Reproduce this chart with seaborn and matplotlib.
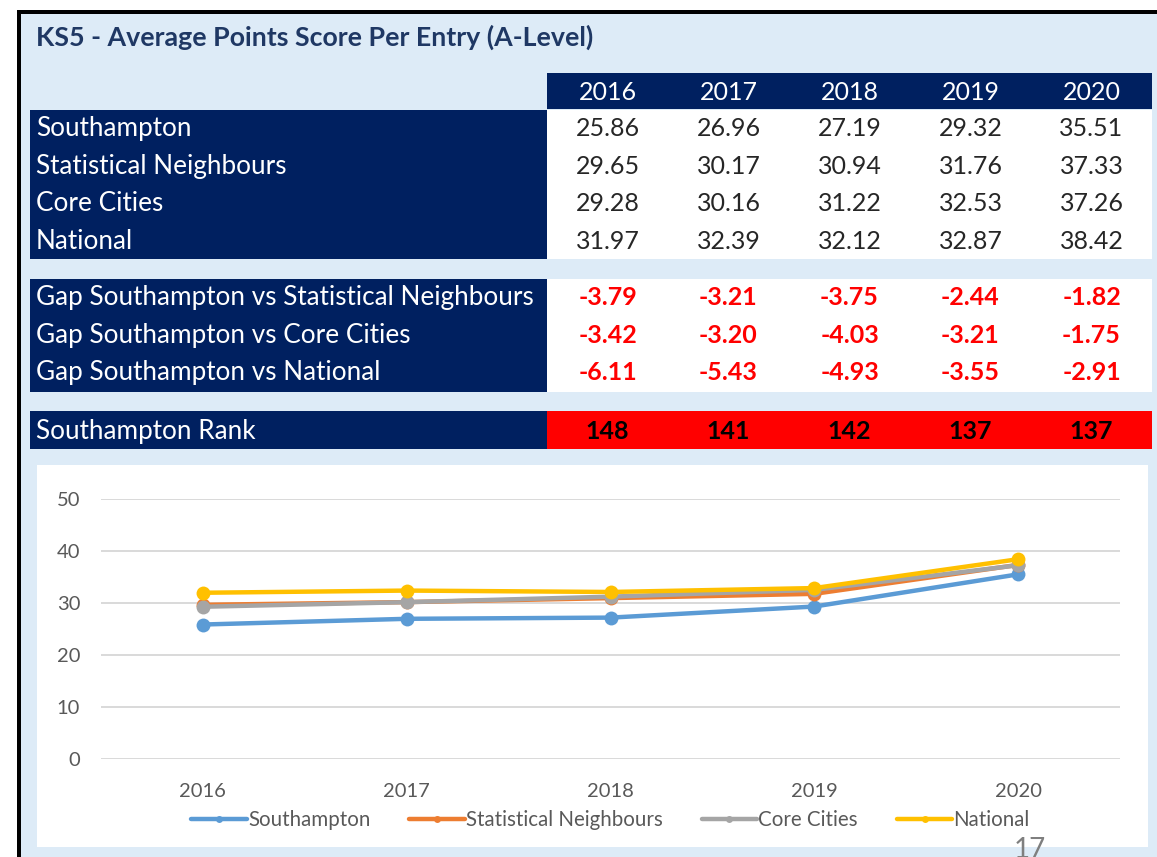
import numpy as np
import pandas as pd
import matplotlib.pyplot as plt
import seaborn as sns
from matplotlib.patches import Rectangle
from matplotlib.lines import Line2D

# =========================
# DATOS
# =========================
years = ["2016", "2017", "2018", "2019", "2020"]
series_names = ["Southampton", "Statistical Neighbours", "Core Cities", "National"]
southampton = [25.86, 26.96, 27.19, 29.32, 35.51]
stat_neighbours = [29.65, 30.17, 30.94, 31.76, 37.33]
core_cities = [29.28, 30.16, 31.22, 32.53, 37.26]
national = [31.97, 32.39, 32.12, 32.87, 38.42]

gap_labels = ["Gap Southampton vs Statistical Neighbours",
              "Gap Southampton vs Core Cities",
              "Gap Southampton vs National"]
gap_stat = [-3.79, -3.21, -3.75, -2.44, -1.82]
gap_core = [-3.42, -3.20, -4.03, -3.21, -1.75]
gap_national = [-6.11, -5.43, -4.93, -3.55, -2.91]

rank = [148, 141, 142, 137, 137]

title = "KS5 - Average Points Score Per Entry (A-Level)"
y_ticks = [0, 10, 20, 30, 40, 50]

colores = ["#5B9BD5", "#ED7D31", "#A5A5A5", "#FFC000"]

# =========================
# ESTILO
# =========================
sns.set_style("white")
plt.rcParams['font.family'] = ['Lato', 'DejaVu Sans']

NAVY = "#002060"
LIGHT = "#DDEBF7"
W, H = 1157, 857
FS = 18     # valores de la tabla
FS_LAB = 18.8  # etiquetas de filas

fig = plt.figure(figsize=(W / 100, H / 100), dpi=100)

# capa de fondo en coordenadas de pixel
bg = fig.add_axes([0, 0, 1, 1], zorder=0)
bg.set_xlim(0, W)
bg.set_ylim(H, 0)
bg.axis("off")


def caja(x0, y0, x1, y1, color):
    bg.add_patch(Rectangle((x0, y0), x1 - x0, y1 - y0, facecolor=color,
                           edgecolor="none"))


caja(17, 10, W, H + 5, "black")
caja(21, 14, W, H + 5, LIGHT)

bg.text(36, 37, title, fontsize=19.3, fontweight="bold", color="#1F3864",
        va="center", ha="left")

# tabla
x_val0, col_w, x_lab0 = 547, 121, 30
row_h = 37.5

caja(x_val0, 73, 1152, 109, NAVY)
for j, yr in enumerate(years):
    bg.text(x_val0 + col_w * (j + 0.5), 92, yr, color="white", fontsize=FS,
            ha="center", va="center")

# bloque de valores
caja(x_lab0, 110, x_val0, 259, NAVY)
caja(x_val0, 110, 1152, 259, "white")
bloque1 = [southampton, stat_neighbours, core_cities, national]
for i, (nombre, vals) in enumerate(zip(series_names, bloque1)):
    yc = 110 + row_h * (i + 0.5)
    bg.text(36, yc, nombre, color="white", fontsize=FS_LAB, ha="left", va="center")
    for j, v in enumerate(vals):
        bg.text(x_val0 + col_w * (j + 0.5), yc, f"{v:.2f}", color="#262626",
                fontsize=FS, ha="center", va="center")

# bloque de gaps
caja(x_lab0, 279, x_val0, 392, NAVY)
caja(x_val0, 279, 1152, 392, "white")
bloque2 = [gap_stat, gap_core, gap_national]
for i, (nombre, vals) in enumerate(zip(gap_labels, bloque2)):
    yc = 279 + row_h * (i + 0.5)
    bg.text(36, yc, nombre, color="white", fontsize=FS_LAB, ha="left", va="center")
    for j, v in enumerate(vals):
        bg.text(x_val0 + col_w * (j + 0.5), yc, f"{v:.2f}", color="#FF0000",
                fontsize=FS, fontweight="bold", ha="center", va="center")

# ranking
caja(x_lab0, 411, x_val0, 449, NAVY)
caja(x_val0, 411, 1152, 449, "#FF0000")
bg.text(36, 431, "Southampton Rank", color="white", fontsize=FS_LAB,
        ha="left", va="center")
for j, r in enumerate(rank):
    bg.text(x_val0 + col_w * (j + 0.5), 431, str(r), color="black",
            fontsize=FS, fontweight="bold", ha="center", va="center")

# panel blanco del grafico
caja(37, 465, 1148, 847, "white")

# =========================
# GRAFICO DE LINEAS
# =========================
df = pd.DataFrame({
    "Year": years * 4,
    "Score": southampton + stat_neighbours + core_cities + national,
    "Series": np.repeat(series_names, len(years)),
})

ax = fig.add_axes([101 / W, (H - 759) / H, 1019 / W, 260 / H], zorder=1)
ax.set_facecolor("none")
sns.lineplot(data=df, x="Year", y="Score", hue="Series", palette=colores,
             hue_order=series_names, marker="o", markersize=10,
             markeredgewidth=0, linewidth=3.2, sort=False, ax=ax, legend=False)

ax.set_xlim(-0.5, 4.5)
ax.set_ylim(0, 50)
ax.set_yticks(y_ticks)
ax.yaxis.grid(True, color="#D9D9D9", linewidth=1.4)
ax.set_axisbelow(True)
for s in ax.spines.values():
    s.set_visible(False)
ax.tick_params(axis="y", length=0, pad=15, labelsize=14.5, labelcolor="#595959")
ax.tick_params(axis="x", length=0, pad=17, labelsize=14.5, labelcolor="#595959")
ax.set_xlabel("")
ax.set_ylabel("")

handles = [Line2D([0], [0], color=c, lw=3.2, marker="o", markersize=5,
                  markeredgewidth=0) for c in colores]
ax.legend(handles, series_names, loc="center", bbox_to_anchor=(0.5, -0.235),
          ncol=4, frameon=False, fontsize=14.8, labelcolor="#595959",
          handlelength=2.7, handletextpad=0.05, columnspacing=1.9)

# numero de pagina, cortado por el borde como en el original
bg.text(1030, 850, "17", fontsize=20, color="#7F7F7F", ha="center",
        va="center", zorder=5)

plt.savefig("out.png", dpi=100)
